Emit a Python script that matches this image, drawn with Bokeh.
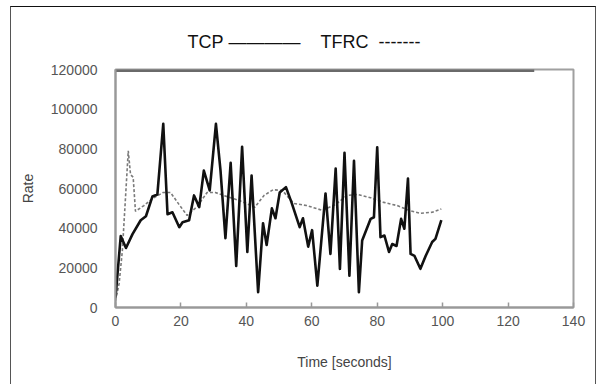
from bokeh.plotting import figure
from bokeh.models import Range1d, FixedTicker, NumeralTickFormatter, Title
from bokeh.embed import file_html
from bokeh.resources import INLINE

# ---- data ----
tcp_time = [0, 1.6, 3.2, 5.2, 7.7, 9.3, 11.3, 12.8, 14.6, 15.9, 17.4, 19.5, 20.5, 22.5,
            24, 25.6, 27, 28.8, 30.7, 32.1, 33.6, 35.2, 36.9, 38.7, 40.3, 41.6, 43.6,
            45.1, 46.2, 47.8, 48.9, 50.2, 52.1, 53.8, 56.3, 57.3, 58.9, 60.1, 61.7,
            64.2, 65.7, 67.3, 68.6, 70, 71.5, 72.9, 74.4, 75.4, 78, 79, 80, 81, 82.2,
            83.6, 84.6, 85.9, 87.3, 88.3, 89.4, 90.2, 91.4, 93.2, 94.8, 96.8, 97.8, 99.6]
tcp_rate = [5000, 36000, 30000, 37000, 44000, 46000, 56000, 57000, 92600, 47000, 48000,
            40500, 43000, 44000, 56500, 50600, 69000, 59000, 92600, 69000, 35000, 73000,
            21000, 81000, 28000, 66500, 7700, 42500, 31500, 50000, 45000, 58000, 60700,
            53000, 40500, 45000, 30700, 39000, 11000, 57500, 27000, 70000, 19500, 78000,
            16000, 74000, 7700, 33800, 44700, 45500, 80800, 35500, 36300, 28000, 32000,
            31000, 44700, 39700, 65000, 27000, 26000, 19500, 26000, 33000, 34600, 44000]

tfrc_time = [0, 1.1, 2.1, 3.9, 4.6, 5.4, 6.1, 8.7, 11.2, 14.6, 16.8, 19.4, 21.9, 25, 28,
             30.5, 33, 37.8, 42.6, 45.4, 48.2, 51, 54.5, 58.4, 63.2, 67.3, 70.8, 73.9,
             78, 82, 86.1, 89.7, 93.2, 96.8, 99.6]
tfrc_rate = [3500, 12000, 28700, 79000, 67000, 65700, 48500, 51400, 54800, 58000, 58000,
             52000, 46400, 51000, 58000, 58000, 56500, 54000, 50600, 56500, 59400, 59000,
             52500, 51400, 49000, 52000, 56500, 57000, 55300, 53000, 51400, 49000, 47500,
             48000, 49700]

top_band_time = [0, 128]
top_band_rate = [120000, 120000]

x_ticks = [0, 20, 40, 60, 80, 100, 120, 140]
y_ticks = [0, 20000, 40000, 60000, 80000, 100000, 120000]

NB = "\u00a0"
legend_text = "TCP" + NB + "————" + NB * 4 + "TFRC" + NB * 2 + "-------"

p = figure(width=586, height=378, x_range=Range1d(0, 140), y_range=Range1d(0, 120000),
           output_backend="svg", toolbar_location=None,
           min_border_left=104, min_border_right=24, min_border_top=62, min_border_bottom=78)
p.styles = {"margin-left": "10px", "margin-top": "6px", "border-top": "1px solid #111",
            "border-left": "1px solid #555", "border-right": "1px solid #555"}

p.background_fill_color = "white"
p.border_fill_color = "white"
p.outline_line_color = "#a0a0a0"
p.outline_line_width = 2
p.xgrid.grid_line_color = None
p.ygrid.grid_line_color = None

t = Title(text=legend_text, align="left", offset=72, standoff=36,
          text_font="Liberation Sans", text_font_size="18px",
          text_font_style="normal", text_color="#111")
p.add_layout(t, "above")

p.line(top_band_time, top_band_rate, line_color="#6a6a6a", line_width=5)
p.line(tfrc_time, tfrc_rate, line_color="#7a7a7a", line_width=1.6, line_dash="3 2")
p.line(tcp_time, tcp_rate, line_color="#111111", line_width=2.6, line_join="round")

font = "Liberation Sans"
p.xaxis.ticker = FixedTicker(ticks=x_ticks)
p.yaxis.ticker = FixedTicker(ticks=y_ticks)
p.yaxis.formatter = NumeralTickFormatter(format="0")
for ax in (p.xaxis[0], p.yaxis[0]):
    ax.axis_line_color = "#999999"
    ax.axis_line_width = 2
    ax.major_label_text_font = font
    ax.major_label_text_font_size = "14px"
    ax.major_label_text_color = "#555555"
    ax.axis_label_text_font = font
    ax.axis_label_text_font_size = "14px"
    ax.axis_label_text_font_style = "normal"
    ax.axis_label_text_color = "#444444"
    ax.minor_tick_line_color = None

p.xaxis.major_tick_in = 5
p.xaxis.major_tick_out = 0
p.xaxis.major_tick_line_color = "#999999"
p.xaxis.major_tick_line_width = 1.5
p.xaxis.major_label_standoff = 8
p.xaxis.axis_label = "Time [seconds]"
p.xaxis.axis_label_standoff = 25

p.yaxis.major_tick_line_color = None
p.yaxis.major_label_standoff = 12
p.yaxis.axis_label = "Rate"
p.yaxis.axis_label_standoff = 12

open("out.html", "w").write(file_html(p, INLINE))
